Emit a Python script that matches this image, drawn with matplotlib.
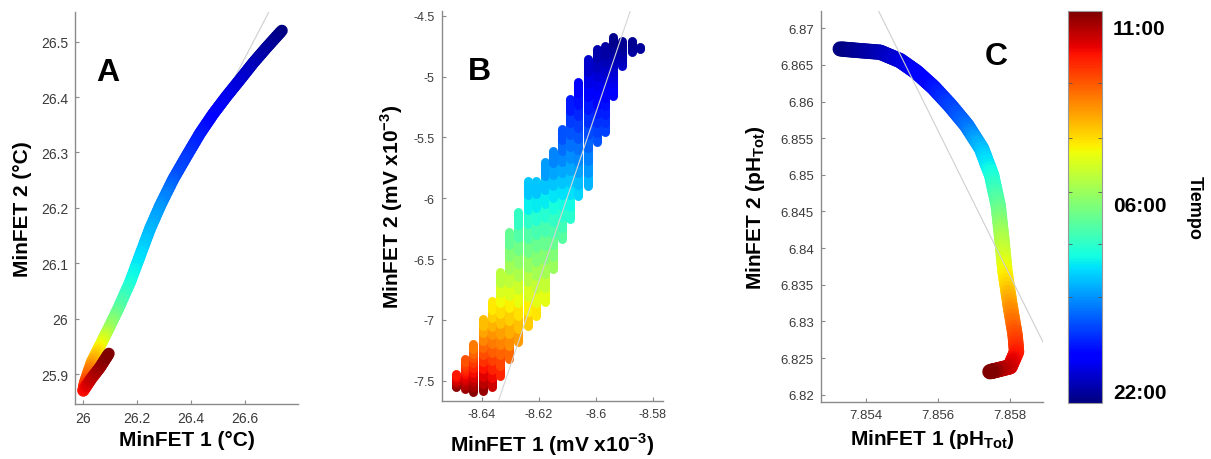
import matplotlib
matplotlib.use('Agg')
import matplotlib.pyplot as plt
import numpy as np
from matplotlib.collections import LineCollection
from matplotlib.colors import Normalize
from matplotlib.cm import ScalarMappable
from matplotlib.ticker import FixedLocator, FormatStrFormatter

plt.rcParams['font.family'] = ['Liberation Sans', 'DejaVu Sans']
plt.rcParams['mathtext.fontset'] = 'custom'
plt.rcParams['mathtext.rm'] = 'Liberation Sans'
plt.rcParams['mathtext.bf'] = 'Liberation Sans:bold'
plt.rcParams['axes.unicode_minus'] = False

# tiempo = horas desde las 22:00
# A: temperatura
a_x = [26.739, 26.683, 26.633, 26.584, 26.534, 26.484, 26.435, 26.385, 26.335, 26.286,
       26.248, 26.211, 26.174, 26.130, 26.093, 26.062, 26.031, 26.006, 26.000, 26.030,
       26.062, 26.095]
a_y = [26.520, 26.490, 26.462, 26.432, 26.402, 26.370, 26.335, 26.294, 26.252, 26.204,
       26.162, 26.114, 26.066, 26.018, 25.981, 25.951, 25.921, 25.885, 25.870, 25.892,
       25.912, 25.937]
a_t = [0.0, 0.3, 0.6, 0.9, 1.2, 1.5, 1.9, 2.3, 2.7, 3.5,
       3.9, 4.4, 4.9, 5.9, 7.0, 8.3, 9.5, 10.8, 11.5, 12.2,
       12.6, 13.0]
a_fit_x = [26.45, 26.69]
a_fit_y = [26.33, 26.553]

# B: mV x10^-3 (columnas discretas)
b_x = [-8.6490, -8.6459, -8.6430, -8.6395, -8.6364, -8.6336, -8.6304, -8.6273, -8.6238,
       -8.6210, -8.6178, -8.6150, -8.6119, -8.6091, -8.6063, -8.6028, -8.5996, -8.5968,
       -8.5940, -8.5909, -8.5874, -8.5845]
b_top = [-7.445, -7.321, -7.198, -6.993, -6.845, -6.607, -6.278, -6.113, -5.858,
         -5.858, -5.702, -5.612, -5.431, -5.185, -5.045, -4.856, -4.774, -4.749,
         -4.675, -4.708, -4.708, -4.757]
b_bot = [-7.552, -7.568, -7.593, -7.585, -7.552, -7.462, -7.322, -7.182, -7.050,
         -6.968, -6.853, -6.582, -6.335, -6.171, -5.982, -5.900, -5.538, -5.456,
         -5.160, -4.913, -4.798, -4.774]
b_t_top = [11.4, 10.6, 10.0, 9.0, 8.4, 7.3, 5.9, 5.1, 3.9, 3.9, 3.4, 3.1, 2.5, 1.8,
           1.3, 0.7, 0.4, 0.3, 0.1, 0.2, 0.2, 0.3]
b_t_bot = [13.0, 12.8, 13.0, 12.9, 12.3, 11.5, 10.6, 9.9, 9.3, 8.9, 8.4, 7.2, 6.1, 5.4,
           4.5, 4.1, 2.8, 2.6, 1.7, 0.9, 0.5, 0.4]
b_fit_x = [-8.634, -8.5875]
b_fit_y = [-7.66, -4.43]

# C: pH total
c_x = [7.85329, 7.85384, 7.85440, 7.85495, 7.85541, 7.85587, 7.85634, 7.85680, 7.85721,
       7.85749, 7.85767, 7.85777, 7.85786, 7.85800, 7.85814, 7.85818, 7.85800, 7.85763,
       7.85744]
c_y = [6.86718, 6.86695, 6.86673, 6.86559, 6.86400, 6.86196, 6.85946, 6.85673, 6.85356,
       6.84992, 6.84583, 6.84130, 6.83676, 6.83221, 6.82812, 6.82586, 6.82381, 6.82335,
       6.82313]
c_t = [0.0, 0.3, 0.6, 1.0, 1.4, 1.8, 2.4, 3.0, 4.0, 4.9, 6.0, 7.2, 8.3, 9.6, 10.7, 11.3,
       12.0, 12.5, 13.0]
c_fit_x = [7.85435, 7.85892]
c_fit_y = [6.8724, 6.8271]

cb_ticks = [0.4, 6.63, 12.5]
cb_labels = ['22:00', '06:00', '11:00']
cb_minor = [3.5, 5.27, 7.0, 8.8, 10.6]

norm = Normalize(0, 13)
cmap = plt.get_cmap('jet')


def gradient_path(ax, x, y, t, lw, n=8):
    segs, cols = [], []
    for i in range(len(x) - 1):
        f = np.linspace(0, 1, n + 1)
        xs = x[i] + f * (x[i + 1] - x[i])
        ys = y[i] + f * (y[i + 1] - y[i])
        ts = t[i] + f * (t[i + 1] - t[i])
        for k in range(n):
            segs.append([(xs[k], ys[k]), (xs[k + 1], ys[k + 1])])
            cols.append(0.5 * (ts[k] + ts[k + 1]))
    lc = LineCollection(segs, cmap=cmap, norm=norm, linewidths=lw, capstyle='round',
                        joinstyle='round', zorder=2)
    lc.set_array(np.array(cols))
    ax.add_collection(lc)


def style(ax, size):
    for s in ['top', 'right']:
        ax.spines[s].set_visible(False)
    for s in ['left', 'bottom']:
        ax.spines[s].set_color('#8a8a8a')
        ax.spines[s].set_linewidth(1.0)
    ax.tick_params(direction='in', length=3, color='#8a8a8a', labelcolor='#3a3a3a',
                   labelsize=size, pad=5)


fig = plt.figure(figsize=(12.11, 4.6), dpi=100)
axA = fig.add_axes([0.0619, 0.1196, 0.1844, 0.8515])
axB = fig.add_axes([0.3647, 0.1267, 0.1827, 0.8478])
axC = fig.add_axes([0.6777, 0.1233, 0.1838, 0.8513])
cax = fig.add_axes([0.8819, 0.1217, 0.0281, 0.8522])

# A
axA.plot(a_fit_x, a_fit_y, color='#cfcfcf', lw=0.8, zorder=1)
gradient_path(axA, a_x, a_y, a_t, 8.5)
axA.set_xlim(25.969, 26.80)
axA.set_ylim(25.846, 26.553)
axA.xaxis.set_major_locator(FixedLocator([26, 26.2, 26.4, 26.6]))
axA.yaxis.set_major_locator(FixedLocator([25.9, 26, 26.1, 26.2, 26.3, 26.4, 26.5]))
axA.xaxis.set_major_formatter(FormatStrFormatter('%g'))
axA.yaxis.set_major_formatter(FormatStrFormatter('%g'))
style(axA, 10)
axA.set_xlabel('MinFET 1 (°C)', fontsize=15, fontweight='bold', labelpad=4)
axA.set_ylabel('MinFET 2 (°C)', fontsize=15, fontweight='bold', labelpad=6)
axA.text(0.148, 0.848, 'A', transform=axA.transAxes, fontsize=23, fontweight='bold',
         ha='center', va='center')

# B
segs, cols = [], []
for xi, yt, yb, tt, tb in zip(b_x, b_top, b_bot, b_t_top, b_t_bot):
    n = 10
    ys = np.linspace(yb, yt, n + 1)
    ts = np.linspace(tb, tt, n + 1)
    for k in range(n):
        segs.append([(xi, ys[k]), (xi, ys[k + 1])])
        cols.append(0.5 * (ts[k] + ts[k + 1]))
lcB = LineCollection(segs, cmap=cmap, norm=norm, linewidths=6.5, capstyle='round')
lcB.set_array(np.array(cols))
axB.add_collection(lcB)
axB.plot(b_fit_x, b_fit_y, color='#d5d5d5', lw=0.8, zorder=3)
axB.set_xlim(-8.654, -8.5765)
axB.set_ylim(-7.664, -4.459)
axB.xaxis.set_major_locator(FixedLocator([-8.64, -8.62, -8.6, -8.58]))
axB.yaxis.set_major_locator(FixedLocator([-7.5, -7, -6.5, -6, -5.5, -5, -4.5]))
axB.xaxis.set_major_formatter(FormatStrFormatter('%g'))
axB.yaxis.set_major_formatter(FormatStrFormatter('%g'))
style(axB, 9)
axB.set_xlabel('MinFET 1 (mV x10$^{\\mathbf{-3}}$)', fontsize=15, fontweight='bold',
               labelpad=8)
axB.set_ylabel('MinFET 2 (mV x10$^{\\mathbf{-3}}$)', fontsize=15, fontweight='bold',
               labelpad=6)
axB.text(0.173, 0.845, 'B', transform=axB.transAxes, fontsize=23, fontweight='bold',
         ha='center', va='center')

# C
gradient_path(axC, c_x, c_y, c_t, 11)
axC.plot(c_fit_x, c_fit_y, color='#cfcfcf', lw=0.8, zorder=3)
axC.set_xlim(7.85275, 7.85892)
axC.set_ylim(6.81896, 6.8724)
axC.xaxis.set_major_locator(FixedLocator([7.854, 7.856, 7.858]))
axC.yaxis.set_major_locator(FixedLocator([6.82, 6.825, 6.83, 6.835, 6.84, 6.845, 6.85,
                                          6.855, 6.86, 6.865, 6.87]))
axC.xaxis.set_major_formatter(FormatStrFormatter('%g'))
axC.yaxis.set_major_formatter(FormatStrFormatter('%g'))
style(axC, 9.5)
axC.set_xlabel('MinFET 1 (pH$_{\\mathbf{Tot}}$)', fontsize=15, fontweight='bold',
               labelpad=4)
axC.set_ylabel('MinFET 2 (pH$_{\\mathbf{Tot}}$)', fontsize=15, fontweight='bold',
               labelpad=10)
axC.text(0.788, 0.884, 'C', transform=axC.transAxes, fontsize=23, fontweight='bold',
         ha='center', va='center')

# barra de color
sm = ScalarMappable(norm=norm, cmap=cmap)
cbar = fig.colorbar(sm, cax=cax)
cbar.set_ticks(cb_ticks)
cbar.set_ticklabels(cb_labels)
cbar.outline.set_edgecolor('#9a9a9a')
cbar.outline.set_linewidth(0.8)
cax.tick_params(which='major', length=0, labelsize=15, pad=8)
for lab in cax.get_yticklabels():
    lab.set_fontweight('bold')
cax.yaxis.set_minor_locator(FixedLocator(cb_minor))
cax.tick_params(which='minor', direction='in', length=3, left=True, right=True,
                color='#555555')
cbar.set_label('Tiempo', rotation=270, fontsize=13, fontweight='bold', labelpad=26)

fig.savefig('out.png', dpi=100)
